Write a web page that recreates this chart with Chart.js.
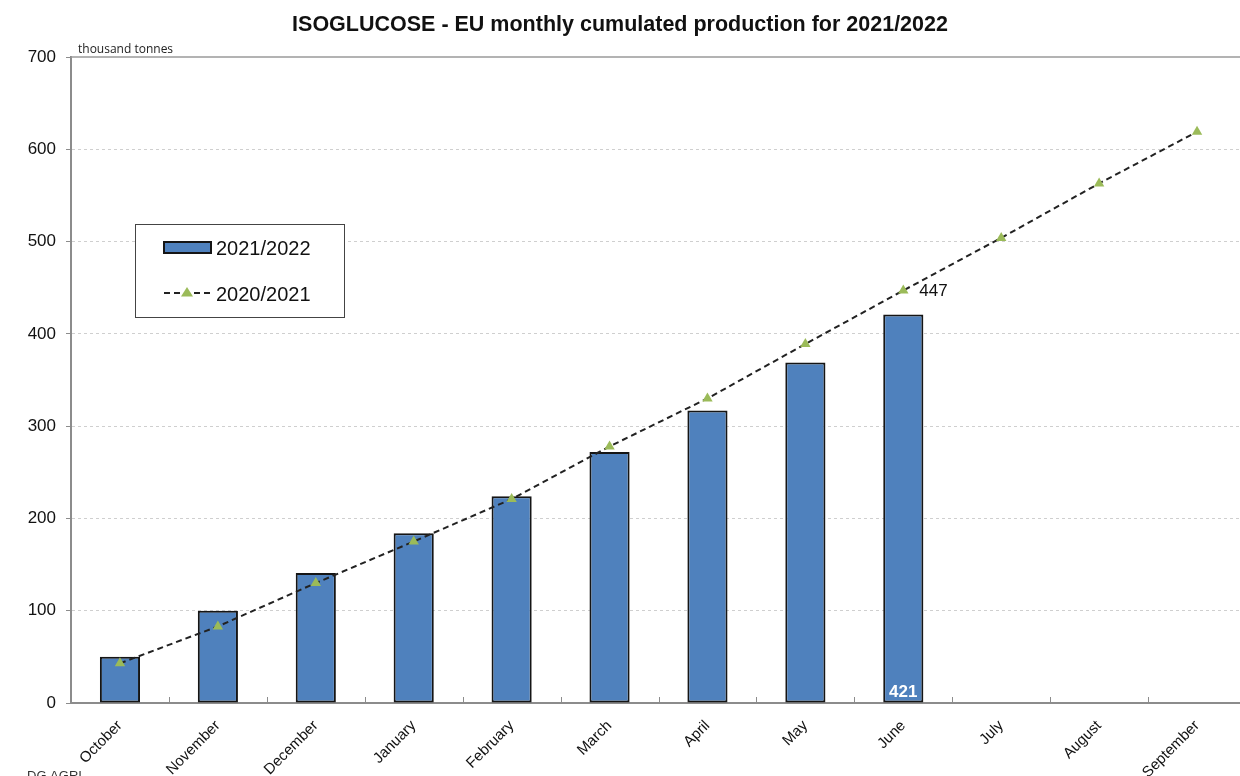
<!DOCTYPE html>
<html>
<head>
<meta charset="utf-8">
<title>ISOGLUCOSE - EU monthly cumulated production</title>
<script src="https://cdn.jsdelivr.net/npm/chart.js@4.4.1/dist/chart.umd.min.js"></script>
<style>
  html, body { margin: 0; padding: 0; background: #fff; overflow: hidden; }
  #wrap { width: 1252px; height: 776px; position: relative; }
  canvas { display: block; }
</style>
</head>
<body>
<div id="wrap"><canvas id="chart" width="1252" height="776"></canvas></div>
<script>
// Marketing-year months (October to September)
const months = ['October', 'November', 'December', 'January', 'February', 'March',
                'April', 'May', 'June', 'July', 'August', 'September'];

// Cumulated production, thousand tonnes
const production2122 = [50, 100, 141, 184, 224, 272, 317, 369, 421, null, null, null];
const production2021 = [43, 83, 130, 175, 221, 278, 330, 389, 447, 504, 563, 619];

// Value axis
const yMin = 0;
const yMax = 700;
const yStep = 100;

// Labelled points
const labelledMonth = 'June';

const titleText = 'ISOGLUCOSE - EU monthly cumulated production for 2021/2022';
const unitText = 'thousand tonnes';
const sourceText = 'DG AGRI';

const FONT = '"Liberation Sans", Arial, sans-serif';
const BAR_BLUE = '#4F81BD';
const TRI_GREEN = '#9BBB59';
const AXIS_GREY = '#8c8c8c';

const overlay = {
  id: 'overlay',
  beforeDatasetsDraw(chart) {
    const { ctx, chartArea, scales } = chart;
    const x = scales.x, y = scales.y;
    ctx.save();
    // solid frame line along the top of the value range
    const yTop = y.getPixelForValue(yMax);
    ctx.strokeStyle = '#9a9a9a';
    ctx.lineWidth = 1.5;
    ctx.beginPath();
    ctx.moveTo(chartArea.left, yTop);
    ctx.lineTo(chartArea.right, yTop);
    ctx.stroke();
    // small upward ticks between categories
    ctx.strokeStyle = AXIS_GREY;
    ctx.lineWidth = 1;
    const half = (x.getPixelForValue(1) - x.getPixelForValue(0)) / 2;
    for (let i = 0; i < months.length; i++) {
      const px = Math.round(x.getPixelForValue(i) + half) + 0.5;
      ctx.beginPath();
      ctx.moveTo(px, chartArea.bottom);
      ctx.lineTo(px, chartArea.bottom - 6);
      ctx.stroke();
    }
    ctx.restore();
  },
  afterDatasetsDraw(chart) {
    const { ctx } = chart;
    const idx = months.indexOf(labelledMonth);
    ctx.save();
    // value of the last bar, inside its base
    const bar = chart.getDatasetMeta(0).data[idx];
    ctx.font = 'bold 17px ' + FONT;
    ctx.fillStyle = '#ffffff';
    ctx.textAlign = 'center';
    ctx.textBaseline = 'alphabetic';
    ctx.fillText(String(production2122[idx]), bar.x, bar.base - 6);
    // previous-year value at the same month
    const pt = chart.getDatasetMeta(1).data[idx];
    ctx.font = '17px ' + FONT;
    ctx.fillStyle = '#111';
    ctx.textAlign = 'left';
    ctx.textBaseline = 'middle';
    ctx.fillText(String(production2021[idx]), pt.x + 16, pt.y + 1);
    ctx.restore();
  },
  afterDraw(chart) {
    const { ctx, chartArea } = chart;
    ctx.save();
    // title
    ctx.font = 'bold 21.5px ' + FONT;
    ctx.fillStyle = '#111';
    ctx.textAlign = 'center';
    ctx.textBaseline = 'alphabetic';
    ctx.fillText(titleText, window.innerWidth / 2, 31);
    // unit
    ctx.font = '12px "Open Sans", sans-serif';
    ctx.textAlign = 'left';
    ctx.fillStyle = '#222';
    ctx.fillText(unitText, chartArea.left + 7, chartArea.top - 4);
    // source
    ctx.font = '13px ' + FONT;
    ctx.fillStyle = '#333';
    ctx.textBaseline = 'top';
    ctx.fillText(sourceText, 27, 770);

    // legend box
    const bx = chartArea.left + 64, by = chartArea.top + 167, bw = 209, bh = 93;
    ctx.fillStyle = '#fff';
    ctx.fillRect(bx, by, bw, bh);
    ctx.strokeStyle = '#444';
    ctx.lineWidth = 1;
    ctx.strokeRect(bx + 0.5, by + 0.5, bw, bh);

    const ds = chart.data.datasets;
    // bar entry
    ctx.fillStyle = ds[0].backgroundColor;
    ctx.fillRect(bx + 29, by + 18, 47, 11);
    ctx.strokeStyle = ds[0].borderColor;
    ctx.lineWidth = 2;
    ctx.strokeRect(bx + 29, by + 18, 47, 11);
    ctx.font = '20px ' + FONT;
    ctx.fillStyle = '#111';
    ctx.textBaseline = 'alphabetic';
    ctx.fillText(ds[0].label, bx + 81, by + 31);
    // line entry
    const ly = by + 69;
    ctx.strokeStyle = ds[1].borderColor;
    ctx.lineWidth = ds[1].borderWidth;
    ctx.setLineDash(ds[1].borderDash);
    ctx.beginPath();
    ctx.moveTo(bx + 29, ly);
    ctx.lineTo(bx + 76, ly);
    ctx.stroke();
    ctx.setLineDash([]);
    ctx.fillStyle = ds[1].pointBackgroundColor;
    const tx = bx + 52, r = 6;
    ctx.beginPath();
    ctx.moveTo(tx, ly - r);
    ctx.lineTo(tx + r, ly + r * 0.6);
    ctx.lineTo(tx - r, ly + r * 0.6);
    ctx.closePath();
    ctx.fill();
    ctx.fillStyle = '#111';
    ctx.fillText(ds[1].label, bx + 81, ly + 8);
    ctx.restore();
  }
};

new Chart(document.getElementById('chart'), {
  data: {
    labels: months,
    datasets: [
      {
        type: 'bar',
        label: '2021/2022',
        data: production2122,
        backgroundColor: BAR_BLUE,
        borderColor: '#151515',
        borderWidth: 2,
        borderSkipped: false,
        categoryPercentage: 1,
        barPercentage: 0.41,
        order: 2
      },
      {
        type: 'line',
        label: '2020/2021',
        data: production2021,
        borderColor: '#222',
        borderWidth: 2,
        borderDash: [6, 4],
        tension: 0,
        pointStyle: 'triangle',
        pointRadius: 6,
        pointBackgroundColor: TRI_GREEN,
        pointBorderColor: TRI_GREEN,
        pointBorderWidth: 0,
        fill: false,
        order: 1
      }
    ]
  },
  options: {
    responsive: false,
    animation: false,
    devicePixelRatio: 1,
    layout: { padding: { top: 57, right: 2, left: 0, bottom: 0 } },
    plugins: {
      legend: { display: false },
      title: { display: false },
      tooltip: { enabled: false }
    },
    scales: {
      x: {
        offset: true,
        grid: { display: false },
        border: { display: true, color: AXIS_GREY, width: 2 },
        ticks: {
          minRotation: 45,
          maxRotation: 45,
          padding: 6,
          color: '#111',
          font: { family: FONT, size: 15 }
        },
        afterFit(scale) { scale.height = 73; }
      },
      y: {
        min: yMin,
        max: yMax,
        border: { display: true, color: AXIS_GREY, width: 2, dash: [3, 3] },
        grid: {
          color: (c) => (c.tick && (c.tick.value === yMin || c.tick.value === yMax)) ? 'rgba(0,0,0,0)' : '#cfcfcf',
          lineWidth: 1,
          drawTicks: true,
          tickLength: 5,
          tickColor: AXIS_GREY,
          tickWidth: 1
        },
        ticks: {
          stepSize: yStep,
          padding: 10,
          color: '#111',
          font: { family: FONT, size: 17 }
        },
        afterFit(scale) { scale.width = 71; }
      }
    }
  },
  plugins: [overlay]
});
</script>
</body>
</html>
